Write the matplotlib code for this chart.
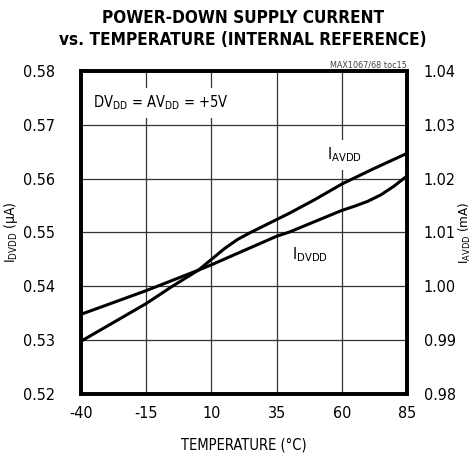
import matplotlib
matplotlib.use("Agg")
import matplotlib.pyplot as plt

plt.rcParams['font.family'] = ['DejaVu Sans']
plt.rcParams['font.stretch'] = 'condensed'
plt.rcParams['mathtext.fontset'] = 'custom'
plt.rcParams['mathtext.rm'] = 'DejaVu Sans:stretch=condensed'

# data
temp_dvdd = [-40, -15, 5, 10, 35, 40, 60, 65, 70, 75, 80, 85]
i_dvdd = [0.5348, 0.5392, 0.5430, 0.5440, 0.5493, 0.5501, 0.5541, 0.5549, 0.5558, 0.5570, 0.5586, 0.5605]   # uA

temp_avdd = [-40, -15, -5, 0, 5, 10, 15, 20, 25, 30, 35, 40, 50, 60, 72, 85]
i_avdd = [0.9898, 0.9968, 1.0000, 1.0015, 1.0030, 1.0050, 1.0070, 1.0087, 1.0100, 1.0112,
          1.0124, 1.0136, 1.0162, 1.0190, 1.0218, 1.0247]   # mA

x_ticks = [-40, -15, 10, 35, 60, 85]
left_ticks = [0.52, 0.53, 0.54, 0.55, 0.56, 0.57, 0.58]
right_ticks = [0.98, 0.99, 1.00, 1.01, 1.02, 1.03, 1.04]

fig = plt.figure(figsize=(4.74, 4.54), dpi=100)
ax = fig.add_axes([0.1709, 0.1322, 0.6877, 0.7114])
ax2 = ax.twinx()

ax.set_xlim(-40, 85)
ax.set_ylim(0.52, 0.58)
ax2.set_ylim(0.98, 1.04)
ax.set_xticks(x_ticks)
ax.set_yticks(left_ticks)
ax2.set_yticks(right_ticks)
ax.set_xticklabels([str(t) for t in x_ticks])
ax.set_yticklabels(["%.2f" % v for v in left_ticks])
ax2.set_yticklabels(["%.2f" % v for v in right_ticks])
ax.grid(True, color="#333333", lw=0.9)
ax.set_axisbelow(True)

ax.tick_params(length=0, labelsize=11.5)
ax.tick_params(axis='y', pad=19)
ax.tick_params(axis='x', pad=9)
ax2.tick_params(length=0, labelsize=11.5, pad=12)

ax.plot(temp_dvdd, i_dvdd, color="black", lw=2.2, solid_capstyle="butt", zorder=3)
ax2.plot(temp_avdd, i_avdd, color="black", lw=2.2, solid_capstyle="butt", zorder=3)

for a in (ax, ax2):
    for s in a.spines.values():
        s.set_linewidth(2.6)
        s.set_color("black")

ax.set_xlabel("TEMPERATURE (°C)", fontsize=10.5)
ax.xaxis.set_label_coords(0.5, -0.135)
ax.set_ylabel("I$_\\mathregular{DVDD}$ (µA)", fontsize=10)
ax.yaxis.set_label_coords(-0.187, 0.5)
ax2.set_ylabel("I$_\\mathregular{AVDD}$ (mA)", fontsize=9.5, rotation=90)
ax2.yaxis.set_label_coords(1.152, 0.5)

box = dict(facecolor="white", edgecolor="none", pad=4)
ax.text(-35.4, 0.5741, "DV$_\\mathregular{DD}$ = AV$_\\mathregular{DD}$ = +5V", fontsize=10.5,
        va="center", ha="left", bbox=box, zorder=2)
ax2.text(54.3, 1.0244, "I$_\\mathregular{AVDD}$", fontsize=11.5, va="center", ha="left", bbox=box, zorder=2)
ax2.text(40.9, 1.0058, "I$_\\mathregular{DVDD}$", fontsize=11.5, va="center", ha="left", bbox=box, zorder=2)

ax.text(1.0, 1.006, "MAX1067/68 toc15", transform=ax.transAxes, fontsize=6.5,
        ha="right", va="bottom", color="#444444")

title_font = dict(fontweight="bold", fontsize=12.3)
fig.text(0.513, 0.961, "POWER-DOWN SUPPLY CURRENT", ha="center", va="center", **title_font)
fig.text(0.513, 0.912, "vs. TEMPERATURE (INTERNAL REFERENCE)", ha="center", va="center", **title_font)

fig.savefig("out.png", dpi=100)
